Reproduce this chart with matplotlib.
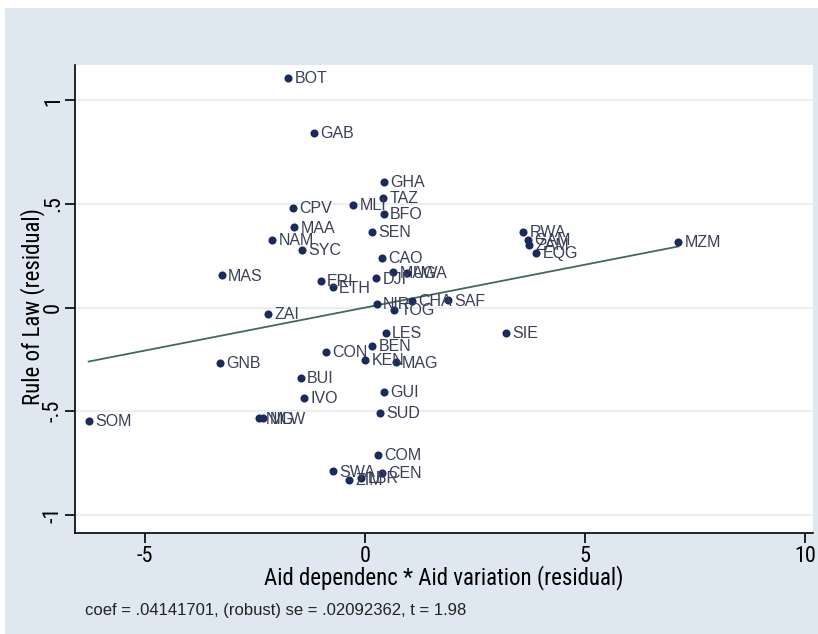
import matplotlib
matplotlib.use("Agg")
import matplotlib.pyplot as plt
from matplotlib.patches import Rectangle
import numpy as np

# ---- data ----
countries = ["BOT", "GAB", "GHA", "TAZ", "MLI", "BFO", "CPV", "MAA", "SEN", "NAM",
             "SYC", "RWA", "GAM", "ZAM", "EQG", "MZM", "CAO", "MAW", "UGA", "DJI",
             "MAS", "ERI", "ETH", "NIR", "CHA", "SAF", "TOG", "ZAI", "LES", "SIE",
             "BEN", "CON", "KEN", "MAG", "GNB", "BUI", "GUI", "IVO", "SUD", "SOM",
             "NIG", "MLW", "COM", "SWA", "CEN", "ZIM", "LBR"]
aid_resid = [-1.74, -1.17, 0.43, 0.42, -0.27, 0.43, -1.64, -1.61, 0.15, -2.11,
             -1.43, 3.60, 3.71, 3.73, 3.89, 7.12, 0.39, 0.64, 0.95, 0.25,
             -3.26, -1.01, -0.73, 0.27, 1.06, 1.88, 0.66, -2.20, 0.47, 3.20,
             0.17, -0.89, 0.00, 0.70, -3.29, -1.46, 0.43, -1.38, 0.34, -6.28,
             -2.40, -2.31, 0.30, -0.73, 0.38, -0.36, -0.08]
law_resid = [1.108, 0.843, 0.608, 0.529, 0.495, 0.453, 0.482, 0.387, 0.367, 0.325,
             0.278, 0.367, 0.327, 0.302, 0.265, 0.316, 0.241, 0.170, 0.168, 0.141,
             0.155, 0.128, 0.097, 0.019, 0.031, 0.035, -0.010, -0.029, -0.121, -0.121,
             -0.186, -0.215, -0.252, -0.264, -0.268, -0.340, -0.405, -0.434, -0.507, -0.547,
             -0.534, -0.534, -0.709, -0.790, -0.798, -0.830, -0.822]
coef = 0.04141701
intercept = 0.0
x_ticks = [-5, 0, 5, 10]
x_ticklabels = ["-5", "0", "5", "10"]
y_ticks = [-1, -0.5, 0, 0.5, 1]
y_ticklabels = ["-1", "-.5", "0", ".5", "1"]
note = "coef = .04141701, (robust) se = .02092362, t = 1.98"

W, H = 818, 634
fig = plt.figure(figsize=(W / 100, H / 100), dpi=100)
fig.patch.set_facecolor("white")
bg = "#dfe7f0"
fig.add_artist(Rectangle((5 / W, 0), 1 - 5 / W, 1 - 8 / H, transform=fig.transFigure,
                         facecolor=bg, edgecolor="none", zorder=-10))

ax = fig.add_axes([75 / W, 1 - 533 / H, (813 - 75) / W, (533 - 65) / H])
ax.set_zorder(1)
ax.set_facecolor("white")

narrow = ["Roboto Condensed", "Liberation Sans"]
reg = ["Liberation Sans", "DejaVu Sans"]

xs = np.array(aid_resid)
ys = np.array(law_resid)
ax.scatter(xs, ys, s=34, color="#1a2a5c", zorder=3, linewidths=0)
for name, x, y in zip(countries, xs, ys):
    ax.annotate(name, (x, y), xytext=(4.5, -0.5), textcoords="offset points",
                va="center", ha="left", fontsize=11.5, color="#3a3f58",
                family=reg, zorder=4)

lx = np.array([xs.min(), xs.max()])
ax.plot(lx, intercept + coef * lx, color="#3e6b59", lw=1.3, zorder=2)

ax.set_xlim(-6.59, 10.18)
ax.set_ylim(-1.087, 1.17)
ax.set_xticks(x_ticks)
ax.set_xticklabels(x_ticklabels, family=narrow, fontsize=16)
ax.set_yticks(y_ticks)
ax.set_yticklabels(y_ticklabels, family=narrow, fontsize=16, rotation=90, va="center")
ax.tick_params(axis="x", direction="out", length=7, width=1.2, color="black", pad=2)
ax.tick_params(axis="y", direction="out", length=7, width=1.2, color="black", pad=1)
ax.grid(axis="y", color="#e6ebee", lw=1.2, zorder=1)
ax.set_axisbelow(True)
for side in ["top", "right"]:
    ax.spines[side].set_visible(False)
for side in ["left", "bottom"]:
    ax.spines[side].set_linewidth(1.2)

ax.set_xlabel("Aid dependenc * Aid variation (residual)", family=narrow, fontsize=16.5, labelpad=-1)
ax.set_ylabel("Rule of Law (residual)", family=narrow, fontsize=16.5)
ax.yaxis.set_label_coords((45 - 75) / (813 - 75), (533 - 307) / (533 - 65))

fig.text(85 / W, 1 - 611 / H, note, family=reg, fontsize=12, va="center", ha="left", color="#222222")

fig.savefig("out.png", dpi=100)
